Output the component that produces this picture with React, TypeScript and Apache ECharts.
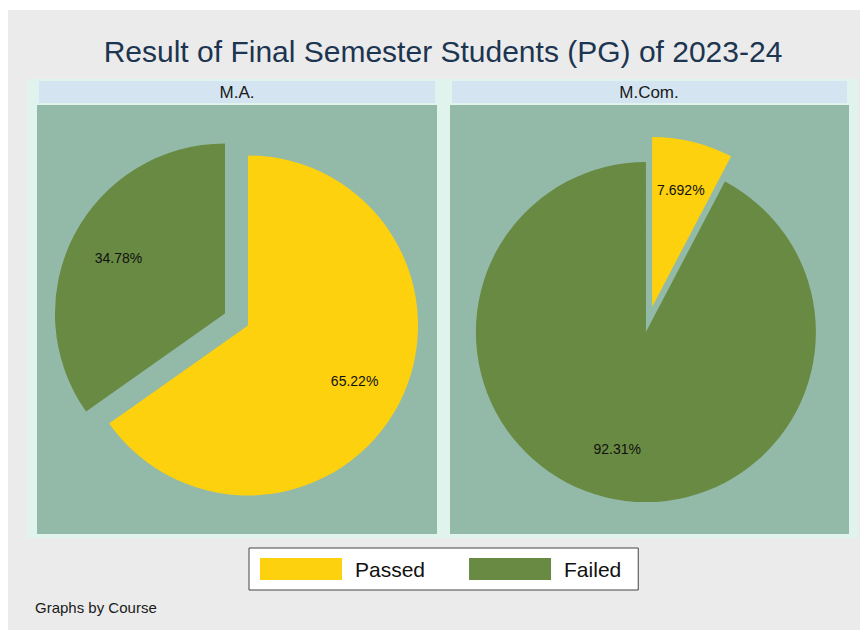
import React, { useEffect, useRef } from "react";
import * as echarts from "echarts";

const panels = ["M.A.", "M.Com."];
const categories = ["Passed", "Failed"];
const passedCounts = [15, 1];
const failedCounts = [8, 12];
const sliceColors = ["#fdd10d", "#688a42"];
const titleText = "Result of Final Semester Students (PG) of 2023-24";
const noteText = "Graphs by Course";

const FONT = "'Liberation Sans', Arial, Helvetica, sans-serif";

export default function App() {
  const ref = useRef<HTMLDivElement>(null);
  useEffect(() => {
    if (!ref.current) return;
    const chart = echarts.init(ref.current, undefined, { renderer: "svg" });

    const centersX = [236.5, 649];
    const centerY = 319.5;
    const R = 170;
    const series: any[] = [];
    panels.forEach((p, i) => {
      const data = [
        { name: categories[0], value: passedCounts[i], selected: true, itemStyle: { color: sliceColors[0] } },
        { name: categories[1], value: failedCounts[i], selected: true, itemStyle: { color: sliceColors[1] } },
      ];
      series.push({
        type: "pie",
        name: p,
        center: [centersX[i], centerY],
        radius: [0, R],
        startAngle: 90,
        clockwise: true,
        selectedMode: "multiple",
        selectedOffset: 13,
        silent: true,
        label: { show: false },
        labelLine: { show: false },
        emphasis: { disabled: true },
        itemStyle: { borderWidth: 0 },
        data,
      });
      series.push({
        type: "pie",
        name: p + " labels",
        center: [centersX[i], centerY],
        radius: [64, R],
        startAngle: 90,
        clockwise: true,
        selectedMode: "multiple",
        selectedOffset: 13,
        silent: true,
        percentPrecision: 4,
        itemStyle: { color: "transparent", borderWidth: 0 },
        label: {
          show: true,
          position: "inside",
          color: "#111",
          fontSize: 14,
          fontFamily: FONT,
          formatter: (q: any) => `${Number(q.percent).toPrecision(4)}%`,
        },
        labelLine: { show: false },
        emphasis: { disabled: true },
        data: data.map((d) => ({ name: d.name, value: d.value, selected: true })),
      });
    });

    const graphic: any[] = [
      { type: "rect", shape: { x: 8, y: 10, width: 852, height: 620 }, style: { fill: "#ebebeb" }, z: -10, silent: true },
      { type: "rect", shape: { x: 27, y: 79, width: 831, height: 459 }, style: { fill: "#e0f3ec" }, z: -9, silent: true },
      { type: "rect", shape: { x: 37, y: 105, width: 400, height: 429 }, style: { fill: "#93b9a9" }, z: -8, silent: true },
      { type: "rect", shape: { x: 450, y: 105, width: 399, height: 429 }, style: { fill: "#93b9a9" }, z: -8, silent: true },
      { type: "rect", shape: { x: 39, y: 81, width: 396, height: 22 }, style: { fill: "#d4e4f0" }, z: -8, silent: true },
      { type: "rect", shape: { x: 452, y: 81, width: 395, height: 22 }, style: { fill: "#d4e4f0" }, z: -8, silent: true },
      { type: "text", x: 237, y: 92.5, style: { text: panels[0], fill: "#1a1a1a", font: `17px ${FONT}`, textAlign: "center", textVerticalAlign: "middle" }, silent: true },
      { type: "text", x: 649, y: 92.5, style: { text: panels[1], fill: "#1a1a1a", font: `17px ${FONT}`, textAlign: "center", textVerticalAlign: "middle" }, silent: true },
      { type: "text", x: 443, y: 51, style: { text: titleText, fill: "#1c3550", font: `30px ${FONT}`, textAlign: "center", textVerticalAlign: "middle" }, silent: true },
      { type: "text", x: 35, y: 607, style: { text: noteText, fill: "#1a1a1a", font: `15px ${FONT}`, textAlign: "left", textVerticalAlign: "middle" }, silent: true },
    ];

    chart.setOption({
      animation: false,
      backgroundColor: "#ffffff",
      graphic,
      legend: {
        left: 249,
        top: 548,
        orient: "horizontal",
        selectedMode: false,
        backgroundColor: "#ffffff",
        borderColor: "#444",
        borderWidth: 1,
        padding: [10, 17, 10, 11],
        itemWidth: 82,
        itemHeight: 22,
        itemGap: 44,
        icon: "rect",
        textStyle: { fontSize: 21, color: "#111", fontFamily: FONT, padding: [0, 0, 0, 8] },
        data: categories.map((c, i) => ({ name: c, itemStyle: { color: sliceColors[i] } })),
      },
      series,
    });
    return () => chart.dispose();
  }, []);
  return (
    <div
      ref={ref}
      style={{ position: "fixed", left: 0, top: 0, width: 868, height: 637 }}
    />
  );
}
